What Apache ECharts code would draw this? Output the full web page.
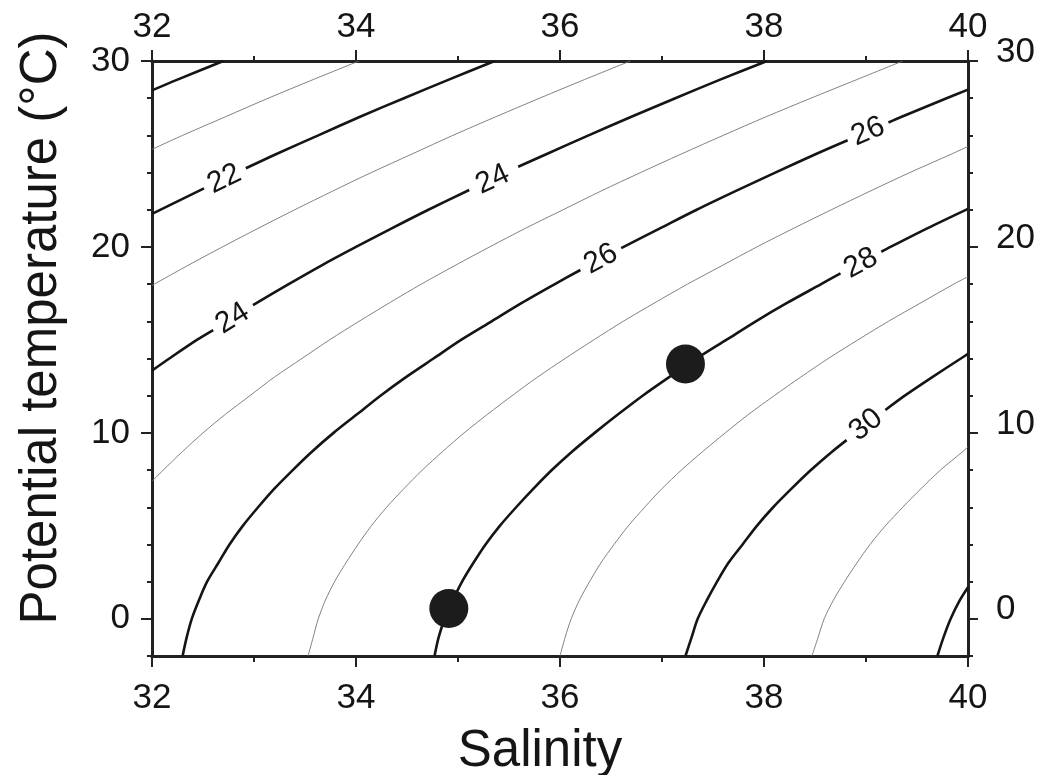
<!DOCTYPE html>
<html><head><meta charset="utf-8">
<script src="https://cdn.jsdelivr.net/npm/echarts@6/dist/echarts.min.js"></script>
<style>html,body{margin:0;padding:0;background:#fff}#c{width:1039px;height:775px}</style>
</head><body><div id="c"></div>
<script>
// ---- data ----
const salinityRange = [32, 40];
const tempRange = [-2, 30];
const xMajorTicks = [32, 34, 36, 38, 40];
const xMinorTicks = [33, 35, 37, 39];
const yMajorTicks = [0, 10, 20, 30];
const yMinorTicks = [-2, 2, 4, 6, 8, 12, 14, 16, 18, 22, 24, 26, 28];

// density contours (sigma-theta), [salinity, temperature]; null = gap left for a label
const sigma20 = [[32.0, 28.42], [32.25, 29], [32.70, 30]];
const sigma21 = [[32.0, 25.25], [32.30, 26], [32.72, 27], [33.14, 28], [33.58, 29], [34.03, 30]];
const sigma22 = [[32.0, 21.78], [32.51, 23.15], null, [32.92, 24.23], [33.22, 25], [33.63, 26], [34.04, 27], [34.47, 28], [34.91, 29], [35.36, 30]];
const sigma23 = [[32.0, 17.93], [32.35, 19], [32.69, 20], [33.04, 21], [33.40, 22], [33.77, 23], [34.15, 24], [34.55, 25], [34.95, 26], [35.37, 27], [35.80, 28], [36.24, 29], [36.69, 30]];
const sigma24 = [[32.0, 13.35], [32.17, 14], [32.44, 15], [32.60, 15.53], null, [32.99, 16.87], [33.34, 18], [33.66, 19], [34.0, 20], [34.35, 21], [34.71, 22], [35.11, 23.06], null, [35.59, 24.31], [35.87, 25], [36.28, 26], [36.70, 27], [37.13, 28], [37.57, 29], [38.03, 30]];
const sigma25 = [[32.0, 7.4], [32.11, 8], [32.30, 9], [32.50, 10], [32.72, 11], [32.96, 12], [33.20, 13], [33.47, 14], [33.74, 15], [34.03, 16], [34.33, 17], [34.64, 18], [34.97, 19], [35.31, 20], [35.66, 21], [36.03, 22], [36.40, 23], [36.79, 24], [37.19, 25], [37.60, 26], [38.02, 27], [38.46, 28], [38.91, 29], [39.36, 30]];
const sigma26 = [[32.30, -2], [32.34, -1], [32.39, 0], [32.46, 1], [32.54, 2], [32.65, 3], [32.76, 4], [32.89, 5], [33.04, 6], [33.20, 7], [33.38, 8], [33.57, 9], [33.78, 10], [34.01, 11], [34.24, 12], [34.49, 13], [34.76, 14], [35.03, 15], [35.33, 16], [35.63, 17], [35.95, 18], [36.20, 18.76], null, [36.60, 19.94], [36.98, 21], [37.34, 22], [37.72, 23], [38.11, 24], [38.51, 25], [38.82, 25.74], null, [39.22, 26.69], [39.35, 27], [39.79, 28], [40.0, 28.46]];
const sigma27 = [[33.53, -2], [33.58, -1], [33.63, 0], [33.70, 1], [33.79, 2], [33.90, 3], [34.02, 4], [34.15, 5], [34.30, 6], [34.47, 7], [34.65, 8], [34.85, 9], [35.06, 10], [35.29, 11], [35.53, 12], [35.78, 13], [36.05, 14], [36.33, 15], [36.62, 16], [36.93, 17], [37.25, 18], [37.59, 19], [37.93, 20], [38.29, 21], [38.66, 22], [39.04, 23], [39.43, 24], [39.84, 25], [40.0, 25.4]];
const sigma28 = [[34.77, -2], [34.81, -1], [34.87, 0], [34.95, 1], [35.04, 2], [35.15, 3], [35.27, 4], [35.41, 5], [35.57, 6], [35.74, 7], [35.92, 8], [36.12, 9], [36.34, 10], [36.57, 11], [36.81, 12], [37.07, 13], [37.34, 14], [37.63, 15], [37.92, 16], [38.23, 17], [38.56, 18], [38.75, 18.58], null, [39.15, 19.74], [39.24, 20], [39.60, 21], [40.0, 22.05]];
const sigma29 = [[36.0, -2], [36.05, -1], [36.11, 0], [36.19, 1], [36.29, 2], [36.40, 3], [36.53, 4], [36.67, 5], [36.83, 6], [37.00, 7], [37.19, 8], [37.40, 9], [37.62, 10], [37.85, 11], [38.10, 12], [38.36, 13], [38.63, 14], [38.92, 15], [39.22, 16], [39.54, 17], [39.86, 18], [40.0, 18.4]];
const sigma30 = [[37.23, -2], [37.29, -1], [37.35, 0], [37.44, 1], [37.54, 2], [37.65, 3], [37.79, 4], [37.93, 5], [38.09, 6], [38.27, 7], [38.46, 8], [38.67, 9], [38.81, 9.61], null, [39.19, 11.23], [39.38, 12], [39.65, 13], [39.93, 14], [40.0, 14.25]];
const sigma31 = [[38.47, -2], [38.53, -1], [38.59, 0], [38.68, 1], [38.79, 2], [38.91, 3], [39.04, 4], [39.19, 5], [39.36, 6], [39.54, 7], [39.73, 8], [39.95, 9], [40.0, 9.25]];
const sigma32 = [[39.70, -2], [39.76, -1], [39.83, 0], [39.92, 1], [40.0, 1.7]];

const labelTexts = ['22', '24', '24', '26', '26', '28', '30'];
const labelPoints = [[32.71, 23.65], [32.79, 16.15], [35.34, 23.62], [36.40, 19.35], [39.02, 26.2], [38.95, 19.12], [39.0, 10.42]];
const labelAngles = [26, 32, 25, 28, 23, 28, 38];

const stations = [[34.91, 0.56], [37.23, 13.70]];

// ---- chart ----
const FONT = '"Liberation Sans", Arial, Helvetica, sans-serif';
const INK = '#151515';

const contours = [
  { level: 20, data: sigma20 }, { level: 21, data: sigma21 }, { level: 22, data: sigma22 },
  { level: 23, data: sigma23 }, { level: 24, data: sigma24 }, { level: 25, data: sigma25 },
  { level: 26, data: sigma26 }, { level: 27, data: sigma27 }, { level: 28, data: sigma28 },
  { level: 29, data: sigma29 }, { level: 30, data: sigma30 }, { level: 31, data: sigma31 },
  { level: 32, data: sigma32 }
];

function xAx(pos, ticks, len, labels, margin) {
  return {
    type: 'value', position: pos, min: salinityRange[0], max: salinityRange[1],
    axisLine: { show: true, onZero: false, lineStyle: { color: '#222', width: 3 } },
    axisTick: { show: true, customValues: ticks, length: len, lineStyle: { color: '#222', width: 2 } },
    axisLabel: { show: labels, customValues: ticks, fontSize: 35, color: INK, fontFamily: FONT, margin: margin },
    splitLine: { show: false }
  };
}
function yAx(pos, ticks, len, labels, margin, extra) {
  return {
    type: 'value', position: pos, min: tempRange[0], max: tempRange[1],
    axisLine: { show: true, onZero: false, lineStyle: { color: '#222', width: 3 } },
    axisTick: { show: true, customValues: ticks, length: len, lineStyle: { color: '#222', width: 2 } },
    axisLabel: Object.assign({ show: labels, customValues: ticks, fontSize: 35, color: INK, fontFamily: FONT, margin: margin }, extra || {}),
    splitLine: { show: false }
  };
}

const series = contours.map(c => ({
  type: 'line', xAxisIndex: 0, yAxisIndex: 0,
  data: c.data.map(p => p === null ? '-' : p),
  showSymbol: false, symbol: 'none', smooth: 0.3, connectNulls: false,
  lineStyle: c.level % 2 === 0 ? { color: INK, width: 2.6 } : { color: '#747474', width: 0.9 },
  silent: true, z: 2
}));

series.push({
  type: 'scatter', xAxisIndex: 0, yAxisIndex: 0, symbolSize: 0, silent: true, z: 5,
  itemStyle: { opacity: 1 },
  data: labelPoints.map((p, i) => ({
    value: p, name: labelTexts[i],
    label: { show: true, position: 'inside', formatter: labelTexts[i], rotate: labelAngles[i],
      fontSize: 30, color: INK, fontFamily: FONT, textBorderWidth: 0 }
  }))
});

series.push({
  type: 'scatter', xAxisIndex: 0, yAxisIndex: 0, symbol: 'circle', symbolSize: 39,
  itemStyle: { color: '#1c1c1c', opacity: 1 }, data: stations, silent: true, z: 6
});

const option = {
  animation: false,
  backgroundColor: '#fff',
  grid: { left: 152, top: 61, right: 71, bottom: 119, containLabel: false },
  xAxis: [
    xAx('bottom', xMajorTicks, 11, true, 25),
    xAx('bottom', xMinorTicks, 6, false, 8),
    xAx('top', xMajorTicks, 11, true, 16),
    xAx('top', xMinorTicks, 5, false, 8)
  ],
  yAxis: [
    yAx('left', yMajorTicks, 11, true, 22),
    yAx('left', yMinorTicks, 5, false, 8),
    yAx('right', yMajorTicks, 10, true, 28, { verticalAlign: 'bottom', lineHeight: 18 }),
    yAx('right', yMinorTicks, 5, false, 8)
  ],
  graphic: [
    { type: 'text', x: 42, y: 328, rotation: Math.PI / 2,
      style: { text: 'Potential temperature (°C)', fontSize: 51, fontFamily: FONT, fill: INK,
        align: 'center', verticalAlign: 'middle' } },
    { type: 'text', x: 540, y: 752,
      style: { text: 'Salinity', fontSize: 51, fontFamily: FONT, fill: INK,
        align: 'center', verticalAlign: 'middle' } }
  ],
  series: series
};

const chart = echarts.init(document.getElementById('c'), null, { renderer: 'canvas' });
chart.setOption(option);
</script>
</body></html>
